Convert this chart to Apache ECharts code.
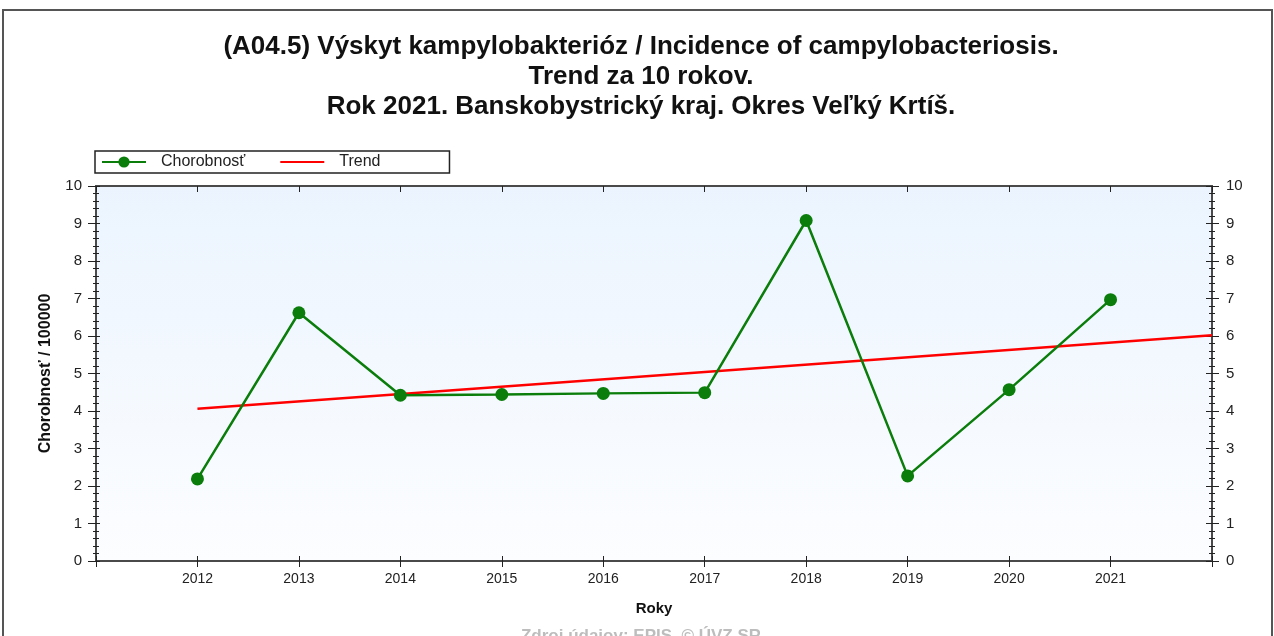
<!DOCTYPE html>
<html>
<head>
<meta charset="utf-8">
<script src="https://cdn.jsdelivr.net/npm/echarts@6/dist/echarts.min.js"></script>
<style>
  html, body { margin: 0; padding: 0; background: #fff; }
  #chart { width: 1274px; height: 636px; }
</style>
</head>
<body>
<div id="chart"></div>
<script>
const years = [2012, 2013, 2014, 2015, 2016, 2017, 2018, 2019, 2020, 2021]
const incidence = [2.19, 6.62, 4.42, 4.44, 4.47, 4.49, 9.08, 2.27, 4.57, 6.97]
const trendYears = [2012, 2022]
const trendValues = [4.06, 6.02]
const yTicks = [0, 1, 2, 3, 4, 5, 6, 7, 8, 9, 10]

const titleLines = [
  '(A04.5) Výskyt kampylobakterióz / Incidence of campylobacteriosis.',
  'Trend za 10 rokov.',
  'Rok 2021. Banskobystrický kraj. Okres Veľký Krtíš.',
]

const FONT = 'Liberation Sans, Arial, sans-serif'
const AXIS_COLOR = '#4a4a4a'
// thin bar, so the trend legend shows only its line
const FLAT_ICON = 'path://M0,0 L20,0 L20,1 L0,1 Z'

const chart = echarts.init(document.getElementById('chart'), null, { renderer: 'canvas' })

function yearLabel(value) {
  return years.includes(value) ? String(value) : ''
}

function xAxisBase(extra) {
  return Object.assign({
    type: 'value',
    min: 2011,
    max: 2022,
    interval: 1,
    splitLine: { show: false },
    axisLine: { show: true, onZero: false, lineStyle: { color: AXIS_COLOR, width: 2 } },
    axisLabel: { show: false },
  }, extra)
}

function yAxisBase(extra) {
  return Object.assign({
    type: 'value',
    min: yTicks[0],
    max: yTicks[yTicks.length - 1],
    interval: 1,
    splitLine: { show: false },
    axisLine: { show: true, lineStyle: { color: AXIS_COLOR, width: 2 } },
    axisLabel: { show: false },
    minorTick: { show: true, splitNumber: 5, length: 3, lineStyle: { color: '#222', width: 1 } },
  }, extra)
}

const option = {
  animation: false,
  backgroundColor: '#fff',
  title: {
    text: titleLines.join('\n'),
    left: 636,
    textAlign: 'center',
    top: 27,
    textStyle: { fontFamily: FONT, fontSize: 26, fontWeight: 'bold', color: '#111', lineHeight: 30 },
  },
  legend: {
    left: 95,
    top: 151,
    itemWidth: 44,
    itemHeight: 14,
    itemGap: 35,
    padding: [3, 69, 3, 6],
    borderColor: '#222',
    borderWidth: 1.5,
    symbolKeepAspect: true,
    textStyle: { fontFamily: FONT, fontSize: 16, color: '#222', padding: [0, 0, 0, 10] },
    data: ['Chorobnosť', { name: 'Trend', icon: FLAT_ICON }],
  },
  grid: {
    left: 96,
    top: 186,
    width: 1116,
    height: 375,
    show: true,
    borderWidth: 0,
    backgroundColor: new echarts.graphic.LinearGradient(0, 0, 0, 1, [
      { offset: 0, color: '#ebf4fe' },
      { offset: 1, color: '#fcfdff' },
    ]),
  },
  xAxis: [
    xAxisBase({
      position: 'bottom',
      name: 'Roky',
      nameLocation: 'middle',
      nameGap: 40,
      nameTextStyle: { fontFamily: FONT, fontSize: 15, fontWeight: 'bold', color: '#111' },
      axisTick: { show: true, length: 6, lineStyle: { color: '#222', width: 1 } },
      axisLabel: { show: true, formatter: yearLabel, fontFamily: FONT, fontSize: 14, color: '#222', margin: 11 },
    }),
    xAxisBase({
      position: 'bottom',
      axisTick: { show: true, inside: true, length: 5, lineStyle: { color: '#222', width: 1 } },
    }),
    xAxisBase({
      position: 'top',
      axisTick: { show: true, inside: true, length: 6, lineStyle: { color: '#222', width: 1 } },
    }),
  ],
  yAxis: [
    yAxisBase({
      position: 'left',
      name: 'Chorobnosť / 100000',
      nameLocation: 'middle',
      nameGap: 42,
      nameTextStyle: { fontFamily: FONT, fontSize: 16, fontWeight: 'bold', color: '#111' },
      axisTick: { show: true, length: 8, lineStyle: { color: '#222', width: 1 } },
      axisLabel: { show: true, fontFamily: FONT, fontSize: 15, color: '#222', margin: 14 },
    }),
    yAxisBase({
      position: 'left',
      axisTick: { show: true, inside: true, length: 4, lineStyle: { color: '#222', width: 1 } },
      minorTick: { show: true, splitNumber: 5, length: 3, lineStyle: { color: '#222', width: 1 } },
    }),
    yAxisBase({
      position: 'right',
      axisTick: { show: true, length: 7, lineStyle: { color: '#222', width: 1 } },
      axisLabel: { show: true, fontFamily: FONT, fontSize: 15, color: '#222', margin: 14 },
    }),
    yAxisBase({
      position: 'right',
      axisTick: { show: true, inside: true, length: 6, lineStyle: { color: '#222', width: 1 } },
      minorTick: { show: true, splitNumber: 5, length: 3, lineStyle: { color: '#222', width: 1 } },
    }),
  ],
  series: [
    {
      name: 'Trend',
      type: 'line',
      xAxisIndex: 0,
      yAxisIndex: 0,
      data: trendYears.map((y, i) => [y, trendValues[i]]),
      showSymbol: false,
      symbol: 'none',
      lineStyle: { color: '#ff0000', width: 2.5 },
      itemStyle: { color: '#ff0000' },
      z: 2,
    },
    {
      name: 'Chorobnosť',
      type: 'line',
      xAxisIndex: 0,
      yAxisIndex: 0,
      data: years.map((y, i) => [y, incidence[i]]),
      symbol: 'circle',
      symbolSize: 13,
      lineStyle: { color: '#0a7d0a', width: 2.5 },
      itemStyle: { color: '#0a7d0a' },
      z: 3,
    },
  ],
  graphic: [
    {
      type: 'rect',
      shape: { x: 3, y: 10, width: 1269, height: 640 },
      style: { fill: 'none', stroke: '#555', lineWidth: 2 },
      silent: true,
      z: -1,
    },
    {
      type: 'text',
      x: 641,
      y: 628,
      style: {
        text: 'Zdroj údajov: EPIS, © ÚVZ SR',
        fill: '#bdbdbd',
        font: 'bold 17px ' + FONT,
        align: 'center',
        verticalAlign: 'top',
      },
      silent: true,
    },
  ],
}

chart.setOption(option)
</script>
</body>
</html>
